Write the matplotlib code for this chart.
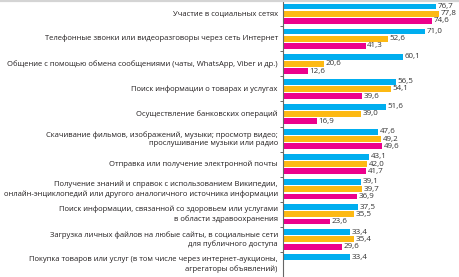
import matplotlib
matplotlib.use("Agg")
import matplotlib.pyplot as plt
from matplotlib.lines import Line2D
import numpy as np

plt.rcParams['font.family'] = ['Open Sans', 'DejaVu Sans']

categories = [
    "Участие в социальных сетях",
    "Телефонные звонки или видеоразговоры через сеть Интернет",
    "Общение с помощью обмена сообщениями (чаты, WhatsApp, Viber и др.)",
    "Поиск информации о товарах и услугах",
    "Осуществление банковских операций",
    "Скачивание фильмов, изображений, музыки; просмотр видео;\nпрослушивание музыки или радио",
    "Отправка или получение электронной почты",
    "Получение знаний и справок с использованием Википедии,\nонлайн-энциклопедий или другого аналогичного источника информации",
    "Поиск информации, связанной со здоровьем или услугами\nв области здравоохранения",
    "Загрузка личных файлов на любые сайты, в социальные сети\nдля публичного доступа",
    "Покупка товаров или услуг (в том числе через интернет-аукционы,\nагрегаторы объявлений)",
]
blue_vals = [76.7, 71.0, 60.1, 56.5, 51.6, 47.6, 43.1, 39.1, 37.5, 33.4, 33.4]
yellow_vals = [77.8, 52.6, 20.6, 54.1, 39.0, 49.2, 42.0, 39.7, 35.5, 35.4, None]
pink_vals = [74.6, 41.3, 12.6, 39.6, 16.9, 49.6, 41.7, 36.9, 23.6, 29.6, None]

colors = ['#00AEEF', '#FDB913', '#EC008C']
W, H = 460, 277

fig = plt.figure(figsize=(W / 100, H / 100), dpi=100)
ax = fig.add_axes([283 / W, 0, 177 / W, 1])

pitch = 25.7
off = 7.4 / pitch
bh = 6.0 / pitch
series = [blue_vals, yellow_vals, pink_vals]
for k, (vals, col) in enumerate(zip(series, colors)):
    for i, v in enumerate(vals):
        if v is None:
            continue
        y = i + (k - 1) * off
        ax.barh(y, v, height=bh, color=col, left=0)
        ax.text(v + 0.8, y, f"{v:.1f}".replace('.', ','), va='center', ha='left',
                fontsize=5.8, color='#333333')

for i, lab in enumerate(categories):
    ax.text(-2.6, i, lab, ha='right', va='center', fontsize=5.5,
            color='#231f20', linespacing=1.3)

ax.set_xlim(0, 88.5)
ax.set_ylim((H - 14) / pitch, -14 / pitch)
for s in ['top', 'right', 'bottom']:
    ax.spines[s].set_visible(False)
ax.spines['left'].set_color('#666666')
ax.spines['left'].set_linewidth(0.8)
ax.set_xticks([])
ax.set_yticks(np.arange(len(categories)) + 0.5)
ax.set_yticklabels([])
ax.tick_params(axis='y', length=2, width=0.7, color='#666666')
ax.patch.set_alpha(0)

fig.add_artist(Line2D([0, 1], [1 - 0.8 / H, 1 - 0.8 / H], color='#d4d4d4', lw=1.6))

fig.savefig('out.png', dpi=100)
